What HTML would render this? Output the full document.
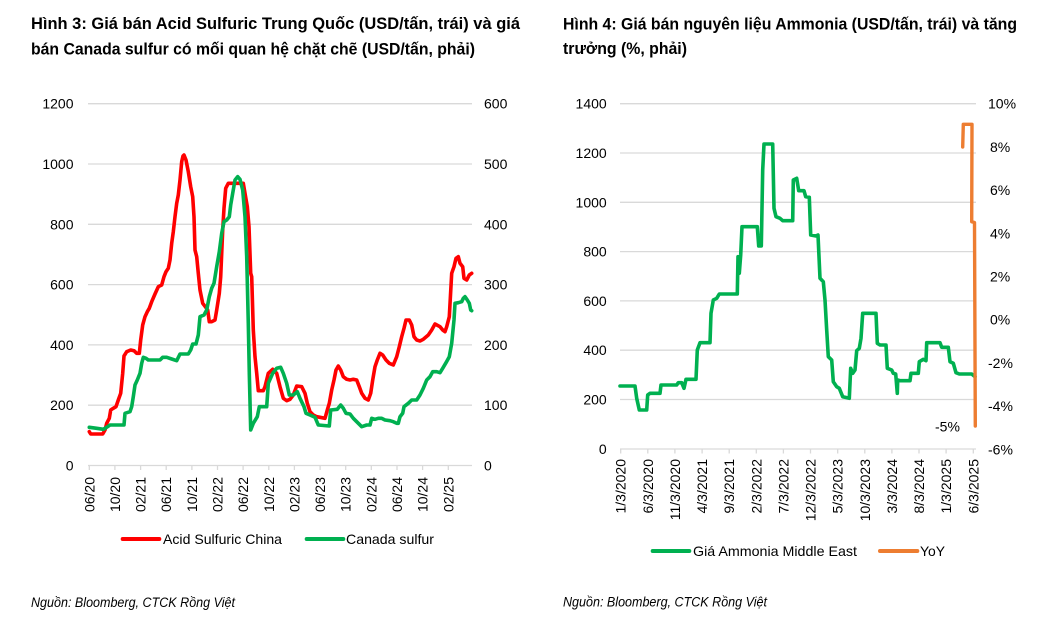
<!DOCTYPE html>
<html><head><meta charset="utf-8">
<style>
html,body{margin:0;padding:0;background:#fff;}
svg{display:block;}
text{font-family:"Liberation Sans",sans-serif;fill:#000;}
.t{font-size:16.5px;font-weight:bold;}
.k{font-size:14px;}
.f{font-size:13.5px;font-style:italic;}
.g{stroke:#d9d9d9;stroke-width:1.3;}
</style></head>
<body>
<svg width="1040" height="639" viewBox="0 0 1040 639" xmlns="http://www.w3.org/2000/svg">
<!-- Titles -->
<text class="t" x="31" y="29" textLength="489" lengthAdjust="spacingAndGlyphs">Hình 3: Giá bán Acid Sulfuric Trung Quốc (USD/tấn, trái) và giá</text>
<text class="t" x="31" y="54.5" textLength="444" lengthAdjust="spacingAndGlyphs">bán Canada sulfur có mối quan hệ chặt chẽ (USD/tấn, phải)</text>
<text class="t" x="563" y="29.3" textLength="454" lengthAdjust="spacingAndGlyphs">Hình 4: Giá bán nguyên liệu Ammonia (USD/tấn, trái) và tăng</text>
<text class="t" x="563" y="54" textLength="124" lengthAdjust="spacingAndGlyphs">trưởng (%, phải)</text>

<!-- LEFT CHART -->
<g>
<line class="g" x1="88" y1="103.7" x2="472" y2="103.7"/>
<line class="g" x1="88" y1="164" x2="472" y2="164"/>
<line class="g" x1="88" y1="224.3" x2="472" y2="224.3"/>
<line class="g" x1="88" y1="284.6" x2="472" y2="284.6"/>
<line class="g" x1="88" y1="344.9" x2="472" y2="344.9"/>
<line class="g" x1="88" y1="405.2" x2="472" y2="405.2"/>
<line class="g" x1="88" y1="465.5" x2="472" y2="465.5"/>
<g class="g">
<line x1="89.3" y1="465.5" x2="89.3" y2="470"/><line x1="114.9" y1="465.5" x2="114.9" y2="470"/><line x1="140.6" y1="465.5" x2="140.6" y2="470"/><line x1="166.2" y1="465.5" x2="166.2" y2="470"/><line x1="191.9" y1="465.5" x2="191.9" y2="470"/><line x1="217.5" y1="465.5" x2="217.5" y2="470"/><line x1="243.1" y1="465.5" x2="243.1" y2="470"/><line x1="268.8" y1="465.5" x2="268.8" y2="470"/><line x1="294.4" y1="465.5" x2="294.4" y2="470"/><line x1="320.1" y1="465.5" x2="320.1" y2="470"/><line x1="345.7" y1="465.5" x2="345.7" y2="470"/><line x1="371.3" y1="465.5" x2="371.3" y2="470"/><line x1="397" y1="465.5" x2="397" y2="470"/><line x1="422.6" y1="465.5" x2="422.6" y2="470"/><line x1="448.3" y1="465.5" x2="448.3" y2="470"/>
</g>
<g class="k" text-anchor="end">
<text x="73.5" y="108.7">1200</text><text x="73.5" y="169">1000</text><text x="73.5" y="229.3">800</text><text x="73.5" y="289.6">600</text><text x="73.5" y="349.9">400</text><text x="73.5" y="410.2">200</text><text x="73.5" y="470.5">0</text>
</g>
<g class="k">
<text x="484" y="108.7">600</text><text x="484" y="169">500</text><text x="484" y="229.3">400</text><text x="484" y="289.6">300</text><text x="484" y="349.9">200</text><text x="484" y="410.2">100</text><text x="484" y="470.5">0</text>
</g>
<g class="k" text-anchor="end">
<text transform="translate(94.3,477) rotate(-90)">06/20</text>
<text transform="translate(119.9,477) rotate(-90)">10/20</text>
<text transform="translate(145.6,477) rotate(-90)">02/21</text>
<text transform="translate(171.2,477) rotate(-90)">06/21</text>
<text transform="translate(196.9,477) rotate(-90)">10/21</text>
<text transform="translate(222.5,477) rotate(-90)">02/22</text>
<text transform="translate(248.1,477) rotate(-90)">06/22</text>
<text transform="translate(273.8,477) rotate(-90)">10/22</text>
<text transform="translate(299.4,477) rotate(-90)">02/23</text>
<text transform="translate(325.1,477) rotate(-90)">06/23</text>
<text transform="translate(350.7,477) rotate(-90)">10/23</text>
<text transform="translate(376.3,477) rotate(-90)">02/24</text>
<text transform="translate(402,477) rotate(-90)">06/24</text>
<text transform="translate(427.6,477) rotate(-90)">10/24</text>
<text transform="translate(453.3,477) rotate(-90)">02/25</text>
</g>
<polyline fill="none" stroke="#ff0000" stroke-width="3.6" stroke-linejoin="round" stroke-linecap="round" points="89.3,431.7 90.7,434 102.7,434 105,430 106.7,423.3 109.3,418.3 110.7,410 113.3,408.3 116,406.7 118.3,400 120.7,393.3 122.7,373.3 124,356 126.7,351.7 130.7,350 134,350.7 136.7,353.3 139.3,353.3 140.7,340 142.7,325 145,316.7 147.3,311.7 149.3,308.3 151.7,301.7 155,294 158.3,286.7 161.7,285 164,276.7 166,271.7 168.3,268.3 170,260 171.7,243.3 173.3,231.7 175,216.7 176.7,203.3 178.3,195 180,180 181.7,161.7 183,156 184,155 186,160 188.3,171.7 190.7,186.7 192.7,196.7 194,216.7 195,250 196.7,256.7 198.3,273.3 200,290 202.7,303.3 205.3,306.7 207.7,310 209.3,321.7 211.7,321.7 215,320 216.7,310 219.3,293.3 220.7,276.7 222.7,230 224,208.3 225.7,188.3 228.3,183.3 243.3,183.3 245,193.3 247.3,206.7 249,226.7 250.7,273.3 251.7,276.7 253.3,330 255,356.7 256.7,373.3 258.3,390.7 263.3,390.7 265,386.7 268.3,373.3 272.7,369.3 276.7,373.3 280,386.7 283.3,398.3 286.7,400.7 290,399.3 293.3,395 296.7,386 301.7,386.7 305,393.3 307.3,403.3 310,411.7 313.3,415 316.7,416.7 320,417.3 325,418.3 327.3,410 329.3,403.3 331.7,390 334,380 336,370 338.3,366 340.7,370 343.3,376.7 346.7,379.3 350,380 353.3,379.3 356.7,380 359.3,386.7 361.7,393.3 365,398.3 368.3,400 370.7,393.3 372.7,380 375,366.7 377.3,360 380,353.3 382.7,355 386,360 389.3,363.3 393.3,365 396.7,356.7 399.3,346.7 401.7,336.7 404,328.3 406,320 409.3,320 411.7,325 414,336.7 416.7,340 420,341 423.3,339.3 428.3,335 431.7,330 435,324 440,326.7 442.7,330 445,331.7 446.7,326.7 449.3,316.7 451.7,273.3 454,266.7 456,258.3 458.3,256.7 460,263.3 462.7,266.7 464,278.3 466.7,280 469.3,275 471.7,273.3"/>
<polyline fill="none" stroke="#00b050" stroke-width="3.6" stroke-linejoin="round" stroke-linecap="round" points="89.3,427.3 96.7,428.3 103.3,429.3 106.7,427.3 110,425 124,425 125,413.3 130,411.7 131.7,406.7 133.3,396.7 135,385 137.3,380 140,373.3 141.7,363.3 143.3,357.3 146,358.3 148.3,360 160,360 162.7,357.3 166.7,357.3 171.7,359 176.7,360.7 180,354 188.3,354 190.7,350 192.7,344 196,344 198.3,335 200,316.7 204,315 206.7,310 209.3,296.7 211.7,288.3 214,283.3 216.7,266.7 219.3,251.7 221.7,233.3 224,221.7 226.7,220 229.3,216.7 230.7,205 232.7,193.3 235,180 237.7,176.7 240,179.3 242.7,190 245,216.7 246.7,256.7 248.3,323.3 249.3,373.3 250.7,430 253.3,423.3 257.3,416.7 259.3,406.7 266.7,406.7 268.3,383.3 272.7,373.3 276.7,368.3 280.7,367.3 283.3,373.3 286.7,383.3 289.3,395 293.3,395 297.3,391.7 300,398.3 304,406.7 306,413.3 310,415 315,417.3 318.3,425 329.3,426 330.7,410 337.3,409.3 340.7,405 343.3,408.3 346,413.3 350,414 353.3,418.3 358.3,423.3 361.7,426.7 366.7,425 370,425 371.7,418.3 375,419.3 378.3,418.3 381.7,418.3 385,420 390,420.7 393.3,421.7 396.7,423.3 398.3,423.3 400,416.7 402.7,413.3 404,406.7 408.3,403.3 411.7,400 416.7,400 420,395 423.3,388.3 426.7,380 430,376.7 432.7,371.7 436.7,371.7 440,372.7 442.7,368.3 446,362.7 449.3,356.7 451.7,343.3 454,320 455,303.3 458.3,302.7 461.7,301.7 463.3,298.3 465,296.7 467.3,300 469.3,303.3 470.7,310 471.7,310.7"/>
<!-- legend -->
<line x1="122.7" y1="539" x2="159.3" y2="539" stroke="#ff0000" stroke-width="4" stroke-linecap="round"/>
<text class="k" x="163" y="544" textLength="119" lengthAdjust="spacingAndGlyphs">Acid Sulfuric China</text>
<line x1="306.7" y1="539" x2="343.3" y2="539" stroke="#00b050" stroke-width="4" stroke-linecap="round"/>
<text class="k" x="346" y="544" textLength="88" lengthAdjust="spacingAndGlyphs">Canada sulfur</text>
<text class="f" x="31" y="607" textLength="204" lengthAdjust="spacingAndGlyphs">Nguồn:  Bloomberg, CTCK Rồng Việt</text>
</g>

<!-- RIGHT CHART -->
<g>
<line class="g" x1="620" y1="103.7" x2="976" y2="103.7"/>
<line class="g" x1="620" y1="153" x2="976" y2="153"/>
<line class="g" x1="620" y1="202.3" x2="976" y2="202.3"/>
<line class="g" x1="620" y1="251.6" x2="976" y2="251.6"/>
<line class="g" x1="620" y1="300.9" x2="976" y2="300.9"/>
<line class="g" x1="620" y1="350.2" x2="976" y2="350.2"/>
<line class="g" x1="620" y1="399.5" x2="976" y2="399.5"/>
<line class="g" x1="620" y1="449" x2="976" y2="449"/>
<g class="g">
<line x1="620.7" y1="449" x2="620.7" y2="453.5"/><line x1="647.8" y1="449" x2="647.8" y2="453.5"/><line x1="674.9" y1="449" x2="674.9" y2="453.5"/><line x1="702.1" y1="449" x2="702.1" y2="453.5"/><line x1="729.2" y1="449" x2="729.2" y2="453.5"/><line x1="756.3" y1="449" x2="756.3" y2="453.5"/><line x1="783.4" y1="449" x2="783.4" y2="453.5"/><line x1="810.5" y1="449" x2="810.5" y2="453.5"/><line x1="837.7" y1="449" x2="837.7" y2="453.5"/><line x1="864.8" y1="449" x2="864.8" y2="453.5"/><line x1="891.9" y1="449" x2="891.9" y2="453.5"/><line x1="919" y1="449" x2="919" y2="453.5"/><line x1="946.1" y1="449" x2="946.1" y2="453.5"/><line x1="973.3" y1="449" x2="973.3" y2="453.5"/>
</g>
<g class="k" text-anchor="end">
<text x="606.7" y="108.7">1400</text><text x="606.7" y="158">1200</text><text x="606.7" y="207.3">1000</text><text x="606.7" y="256.6">800</text><text x="606.7" y="305.9">600</text><text x="606.7" y="355.2">400</text><text x="606.7" y="404.5">200</text><text x="606.7" y="454">0</text>
</g>
<g class="k">
<text x="988" y="108.7">10%</text><text x="990" y="151.9">8%</text><text x="990" y="195.1">6%</text><text x="990" y="238.3">4%</text><text x="990" y="281.5">2%</text><text x="990" y="324.7">0%</text><text x="988" y="367.9">-2%</text><text x="988" y="411.1">-4%</text><text x="988" y="454.3">-6%</text>
</g>
<text class="k" x="935" y="431.5">-5%</text>
<g class="k" text-anchor="end">
<text transform="translate(625.7,459) rotate(-90)">1/3/2020</text>
<text transform="translate(652.8,459) rotate(-90)">6/3/2020</text>
<text transform="translate(679.9,459) rotate(-90)">11/3/2020</text>
<text transform="translate(707.1,459) rotate(-90)">4/3/2021</text>
<text transform="translate(734.2,459) rotate(-90)">9/3/2021</text>
<text transform="translate(761.3,459) rotate(-90)">2/3/2022</text>
<text transform="translate(788.4,459) rotate(-90)">7/3/2022</text>
<text transform="translate(815.5,459) rotate(-90)">12/3/2022</text>
<text transform="translate(842.7,459) rotate(-90)">5/3/2023</text>
<text transform="translate(869.8,459) rotate(-90)">10/3/2023</text>
<text transform="translate(896.9,459) rotate(-90)">3/3/2024</text>
<text transform="translate(924,459) rotate(-90)">8/3/2024</text>
<text transform="translate(951.1,459) rotate(-90)">1/3/2025</text>
<text transform="translate(978.3,459) rotate(-90)">6/3/2025</text>
</g>
<polyline fill="none" stroke="#00b050" stroke-width="3.6" stroke-linejoin="round" stroke-linecap="round" points="620,386 635,386 636.7,398.3 639.3,410 646.7,410 647.7,395 650,393.3 660,393.3 661,385 676.7,385 678.3,382.7 681.7,382.7 684,388.3 686,379.3 696,379.3 697.3,350 700,342.7 710,342.7 711,313.3 713.3,300 716.7,298.3 719.3,294 737.3,294 738,256.7 739.3,273.3 740.7,255 742,226.7 757.3,226.7 758.7,246 761.3,246 762.7,170 764,144 772.7,144 774,208.3 776,216.7 780,218.3 782.7,220.7 792.7,220.7 793.3,180 796.7,178.3 798.7,190.7 804,190.7 805.7,196.7 809.3,197.3 810.7,235 816,236 818,235 820,278.3 823.3,281.7 825,300 826.7,330 828.3,356.7 831.7,360 833.3,381.7 836.7,386.7 839.3,388.3 842.7,396.7 849.3,398.3 850.7,368.3 852.7,373.3 855,370 856.7,350.7 859.3,348.3 861,338.3 862.7,313.3 876,313.3 877.3,343.3 880,345 886,345 887.3,368.3 891.7,370 893.3,373.3 895.7,374 897.3,393.3 897.7,380 900,380.7 910,380.7 911,373.3 918.3,373.3 919.3,361.7 923.3,359.3 926,360.7 926.7,342.7 940,342.7 941.7,347.3 948.3,347.3 950,361.7 953.3,363.3 956,372.7 959.3,374 971.7,374 975,376.7"/>
<polyline fill="none" stroke="#ed7d31" stroke-width="3.4" stroke-linejoin="round" stroke-linecap="round" points="962.7,147 963.3,124.3 972,124.3 971.7,221.7 974.5,222.5 975.3,426"/>
<!-- legend -->
<line x1="652.7" y1="551" x2="689.3" y2="551" stroke="#00b050" stroke-width="4" stroke-linecap="round"/>
<text class="k" x="693" y="556" textLength="164" lengthAdjust="spacingAndGlyphs">Giá Ammonia Middle East</text>
<line x1="880" y1="551" x2="917.3" y2="551" stroke="#ed7d31" stroke-width="4" stroke-linecap="round"/>
<text class="k" x="920" y="556" textLength="25" lengthAdjust="spacingAndGlyphs">YoY</text>
<text class="f" x="563" y="606.5" textLength="204" lengthAdjust="spacingAndGlyphs">Nguồn:  Bloomberg, CTCK Rồng Việt</text>
</g>
</svg>
</body></html>
